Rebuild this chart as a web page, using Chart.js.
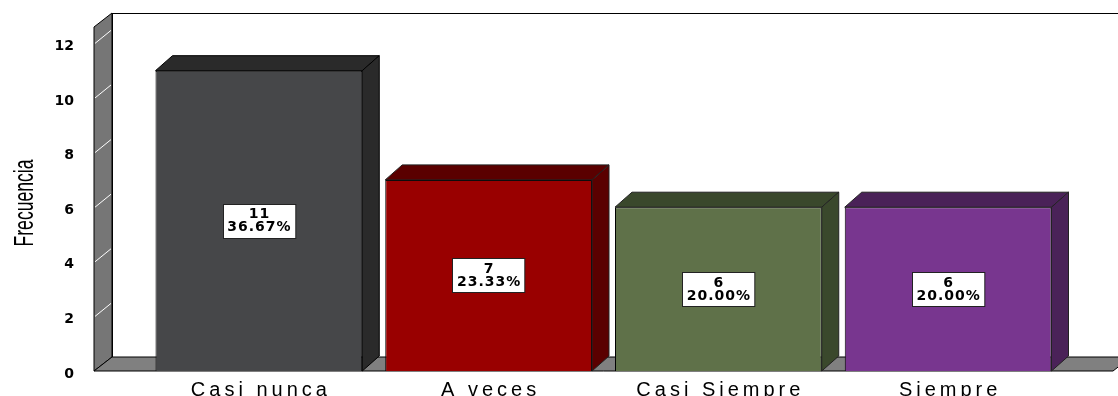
<!DOCTYPE html>
<html lang="es">
<head>
<meta charset="UTF-8">
<title>Frecuencia</title>
<script src="https://cdn.jsdelivr.net/npm/chart.js@4.4.1/dist/chart.umd.min.js"></script>
<style>
    html, body { margin: 0; padding: 0; background: #fff; }
    canvas { display: block; }
</style>
</head>
<body>
<canvas id="grafica" width="1118" height="396"></canvas>
<script>
// Datos
const categorias = ['Casi nunca', 'A veces', 'Casi Siempre', 'Siempre'];
const frecuencias = [11, 7, 6, 6];
const porcentajes = ['36.67%', '23.33%', '20.00%', '20.00%'];
const ticksY = [0, 2, 4, 6, 8, 10, 12];

const coloresFrente = ['#464749', '#990000', '#5f7149', '#78368f'];
const coloresOscuros = ['#2a2a2a', '#5a0000', '#3a482c', '#4a2258'];

// Paredes, piso y caras 3D de las barras
const efecto3d = {
    id: 'efecto3d',
    beforeDatasetsDraw(chart) {
        const { ctx, chartArea: a, scales: { y } } = chart;
        const izq = a.left - 50, der = a.right + 50, dx = 18, dy = 14;
        const y0 = y.getPixelForValue(0), yTop = a.top;
        ctx.save();
        ctx.lineWidth = 1;
        ctx.strokeStyle = '#000';
        // fondo
        ctx.fillStyle = '#fff';
        ctx.fillRect(izq + dx, yTop - dy, der - izq, y0 - yTop);
        ctx.strokeRect(izq + dx + 0.5, yTop - dy + 0.5, der - izq, y0 - yTop);
        // pared izquierda
        ctx.beginPath();
        ctx.moveTo(izq, y0);
        ctx.lineTo(izq, yTop);
        ctx.lineTo(izq + dx, yTop - dy);
        ctx.lineTo(izq + dx, y0 - dy);
        ctx.closePath();
        ctx.fillStyle = '#767676';
        ctx.fill();
        ctx.stroke();
        ctx.strokeStyle = '#fff';
        ticksY.forEach(v => {
            if (v === 0) return;
            const py = y.getPixelForValue(v);
            ctx.beginPath();
            ctx.moveTo(izq + 1, py);
            ctx.lineTo(izq + dx - 1, py - dy + 1);
            ctx.stroke();
        });
        // piso
        ctx.strokeStyle = '#000';
        ctx.beginPath();
        ctx.moveTo(izq, y0);
        ctx.lineTo(izq + dx, y0 - dy);
        ctx.lineTo(der + dx, y0 - dy);
        ctx.lineTo(der, y0);
        ctx.closePath();
        ctx.fillStyle = '#808080';
        ctx.fill();
        ctx.stroke();
        ctx.restore();
    },
    afterDatasetsDraw(chart) {
        const { ctx } = chart;
        const meta = chart.getDatasetMeta(0);
        const dx = 17, dy = 15;
        ctx.save();
        ctx.lineWidth = 1;
        ctx.strokeStyle = '#000';
        meta.data.forEach((bar, i) => {
            const { x, y, base, width } = bar.getProps(['x', 'y', 'base', 'width'], true);
            const L = x - width / 2, R = x + width / 2;
            ctx.fillStyle = coloresOscuros[i];
            // cara superior
            ctx.beginPath();
            ctx.moveTo(L, y);
            ctx.lineTo(L + dx, y - dy);
            ctx.lineTo(R + dx, y - dy);
            ctx.lineTo(R, y);
            ctx.closePath();
            ctx.fill();
            ctx.stroke();
            // cara lateral
            ctx.beginPath();
            ctx.moveTo(R, y);
            ctx.lineTo(R + dx, y - dy);
            ctx.lineTo(R + dx, base - dy);
            ctx.lineTo(R, base);
            ctx.closePath();
            ctx.fill();
            ctx.stroke();

            // etiqueta
            ctx.font = 'bold 14px "DejaVu Sans"';
            ctx.letterSpacing = '1px';
            const lineas = [String(frecuencias[i]), porcentajes[i]];
            const w = Math.max(...lineas.map(t => ctx.measureText(t).width)) + 8;
            const h = 34;
            const cy = (y + base) / 2;
            const bx = Math.round(x - w / 2) + 0.5, by = Math.round(cy - h / 2) + 0.5;
            ctx.fillStyle = '#fff';
            ctx.fillRect(bx, by, w, h);
            ctx.strokeStyle = '#222';
            ctx.strokeRect(bx, by, w, h);
            ctx.fillStyle = '#000';
            ctx.textAlign = 'center';
            ctx.textBaseline = 'middle';
            ctx.fillText(lineas[0], x + 0.5, cy - 6);
            ctx.fillText(lineas[1], x + 0.5, cy + 7);
            ctx.letterSpacing = '0px';
        });
        ctx.restore();
    },
    afterDraw(chart) {
        const { ctx, scales: { x } } = chart;
        ctx.save();
        // etiquetas del eje X
        ctx.font = '20px "Liberation Sans", Arial, sans-serif';
        ctx.letterSpacing = '4px';
        ctx.fillStyle = '#000';
        ctx.textAlign = 'center';
        ctx.textBaseline = 'alphabetic';
        chart.data.labels.forEach((lab, i) => {
            ctx.fillText(lab, x.getPixelForTick(i) + 2, 396);
        });
        ctx.letterSpacing = '0px';
        // título del eje Y
        ctx.translate(23, 203);
        ctx.rotate(-Math.PI / 2);
        ctx.font = '27px "Liberation Sans", Arial, sans-serif';
        const w = ctx.measureText('Frecuencia').width;
        ctx.scale(87 / w, 1);
        ctx.fillText('Frecuencia', 0, 10);
        ctx.restore();
    }
};

new Chart(document.getElementById('grafica'), {
    type: 'bar',
    data: {
        labels: categorias,
        datasets: [{
            data: frecuencias,
            backgroundColor: coloresFrente,
            borderColor: '#000',
            borderWidth: 1,
            barPercentage: 0.9,
            categoryPercentage: 1
        }]
    },
    options: {
        responsive: false,
        animation: false,
        layout: { padding: { top: 27, right: 55, left: 0, bottom: 0 } },
        plugins: { legend: { display: false }, tooltip: { enabled: false } },
        scales: {
            x: {
                grid: { display: false },
                border: { display: false },
                ticks: { display: false },
                afterFit: s => { s.height = 25; s.paddingLeft = 0; s.paddingRight = 0; }
            },
            y: {
                min: 0,
                max: 12.6,
                grid: { display: false },
                border: { display: false },
                afterBuildTicks: s => { s.ticks = ticksY.map(v => ({ value: v })); },
                afterFit: s => { s.width = 144; s.paddingTop = 0; s.paddingBottom = 0; },
                ticks: {
                    color: '#000',
                    padding: 62,
                    labelOffset: 3,
                    font: { family: 'DejaVu Sans', weight: 'bold', size: 14 }
                }
            }
        }
    },
    plugins: [efecto3d]
});
</script>
</body>
</html>
